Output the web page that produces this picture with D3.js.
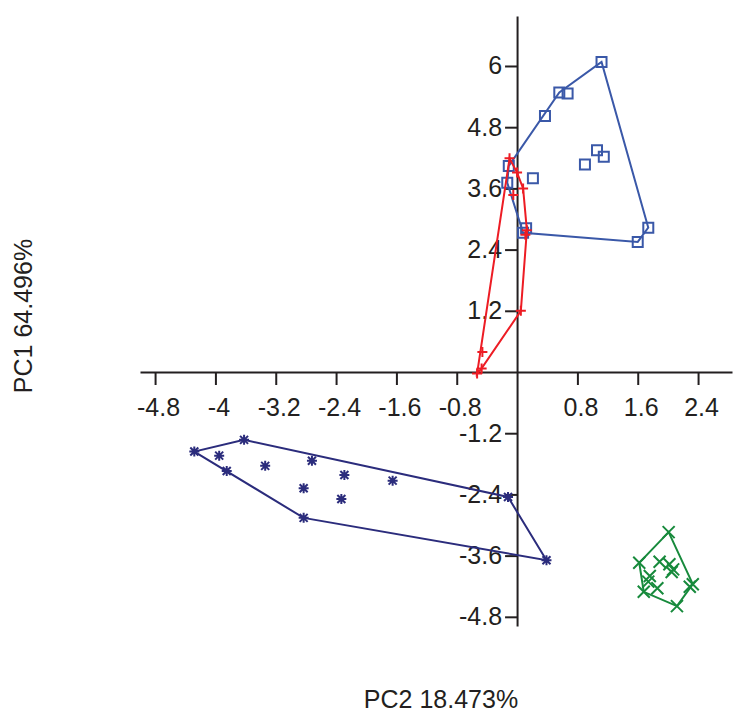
<!DOCTYPE html>
<meta charset="utf-8">
<title>PCA scores</title>
<style>
body { margin: 0; background: #fff; }
svg text { font-family: "Liberation Sans", Arial, sans-serif; fill: #231f20; }
.axis path, .axis line { stroke: #231f20; stroke-width: 2px; }
.axis text { font-size: 25px; }
.hull { fill: none; stroke-width: 2px; }
.mark { fill: none; stroke-width: 2px; }
</style>
<svg width="734" height="713"></svg>
<script src="https://d3js.org/d3.v7.min.js"></script>
<script>
// scores: [PC2, PC1]
var groupA = [[1.12,6.08],[0.56,5.48],[0.67,5.46],[0.37,5.02],[-0.11,4.04],[-0.13,3.71],[0.21,3.80],
	[0.90,4.07],[1.06,4.35],[1.15,4.22],[0.08,2.73],[0.12,2.82],[1.60,2.55],[1.74,2.83]]
var groupB = [[-0.10,4.19],[0.00,3.91],[0.08,3.60],[-0.05,3.47],[0.13,2.78],[0.11,2.69],[0.05,1.20],
	[-0.46,0.39],[-0.53,-0.03],[-0.47,0.07]]
var groupC = [[-4.28,-1.56],[-3.62,-1.33],[-3.95,-1.64],[-3.85,-1.94],[-3.34,-1.84],[-2.72,-1.74],
	[-2.29,-2.02],[-2.83,-2.28],[-2.33,-2.49],[-2.83,-2.86],[-1.65,-2.13],[-0.12,-2.45],[0.39,-3.69]]
var groupD = [[2.01,-3.14],[1.62,-3.74],[1.89,-3.72],[2.02,-3.77],[2.07,-3.87],[2.05,-3.92],[1.76,-4.00],
	[1.74,-4.11],[1.86,-4.24],[1.68,-4.31],[2.29,-4.21],[2.33,-4.16],[2.12,-4.59]]

var xTicks = [-4.8,-4,-3.2,-2.4,-1.6,-0.8,0.8,1.6,2.4]
var yTicks = [-4.8,-3.6,-2.4,-1.2,1.2,2.4,3.6,4.8,6]

var svg = d3.select("svg")

var x = d3.scaleLinear().domain([-5, 2.85]).range([140, 732])
var y = d3.scaleLinear().domain([-4.98, 6.98]).range([626, 16])

var fmt = function(d) { return String(+d.toFixed(1)) }

var xAxis = svg.append("g")
		.attr("class", "axis")
		.attr("transform", "translate(0," + y(0) + ")")
		.call(d3.axisBottom(x).tickValues(xTicks).tickFormat(fmt).tickSize(13).tickSizeOuter(0).tickPadding(13))
xAxis.selectAll("text").attr("dx", 3)

svg.append("g")
		.attr("class", "axis")
		.attr("transform", "translate(" + x(0) + ",0)")
		.call(d3.axisLeft(y).tickValues(yTicks).tickFormat(fmt).tickSize(12).tickSizeOuter(0).tickPadding(3))

var groups = [
	{pts: groupA, color: "#3a58a8", shape: "square"},
	{pts: groupB, color: "#ed1c24", shape: "plus"},
	{pts: groupC, color: "#2b2c7c", shape: "star"},
	{pts: groupD, color: "#178a3c", shape: "cross"}
]

function markerPath(shape) {
	if (shape == "square") return "M-5,-5H5V5H-5Z"
	if (shape == "plus") return "M-5,0H5M0,-5V5"
	if (shape == "cross") return "M-6,-6L6,6M-6,6L6,-6"
	return "M-5,0H5M0,-5V5M-4,-4L4,4M-4,4L4,-4"
}

groups.forEach(function(g) {
	var screen = g.pts.map(function(p) { return [x(p[0]), y(p[1])] })
	var hull = d3.polygonHull(screen)
	svg.append("path")
			.attr("class", "hull")
			.attr("stroke", g.color)
			.attr("d", "M" + hull.join("L") + "Z")

	svg.append("g").selectAll("path")
		.data(g.pts)
		.enter().append("path")
			.attr("class", "mark")
			.attr("stroke", g.color)
			.attr("stroke-width", g.shape == "star" ? 3 : 2)
			.attr("transform", function(d) { return "translate(" + x(d[0]) + "," + y(d[1]) + ")" })
			.attr("d", markerPath(g.shape))
})

svg.append("text")
		.attr("x", 441)
		.attr("y", 708)
		.attr("text-anchor", "middle")
		.style("font-size", "25px")
		.text("PC2 18.473%")

svg.append("text")
		.attr("transform", "translate(32,316) rotate(-90)")
		.attr("text-anchor", "middle")
		.style("font-size", "25px")
		.text("PC1 64.496%")
</script>
